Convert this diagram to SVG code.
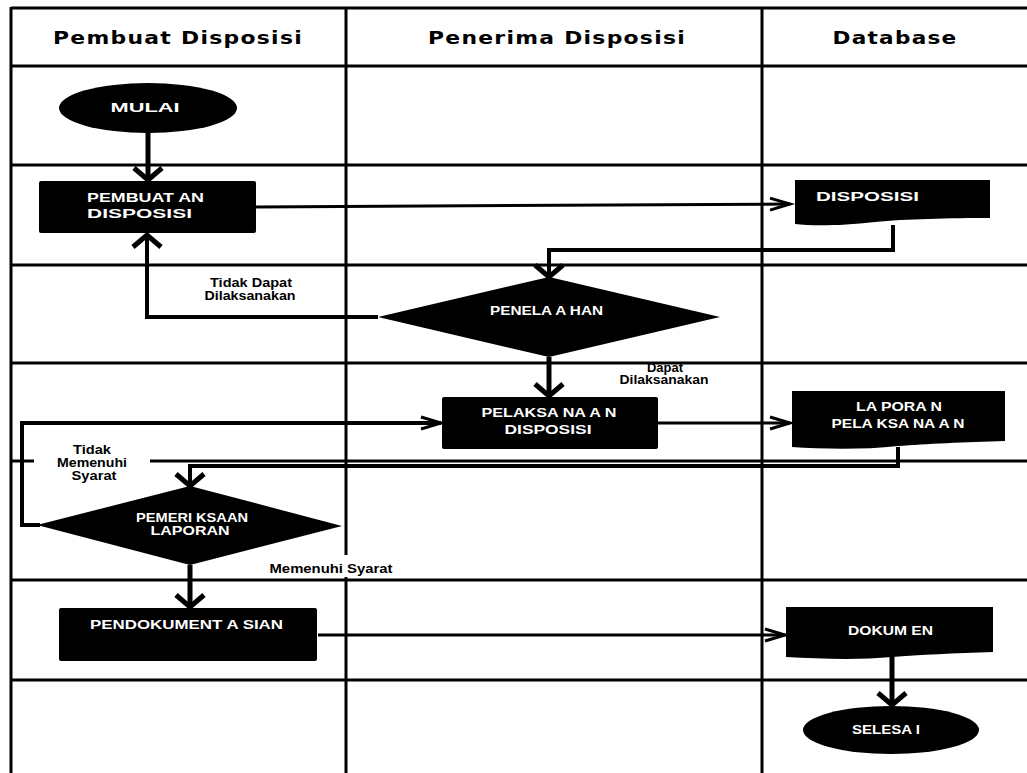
<svg xmlns="http://www.w3.org/2000/svg" width="1027" height="773" viewBox="0 0 1027 773">
<style>
.grid{stroke:#000;stroke-width:3;fill:none}
.hdr{font-family:'DejaVu Sans','Open Sans',sans-serif;font-weight:bold;font-size:17px;letter-spacing:1px;fill:#000;text-anchor:middle}
.nt{font-family:'Liberation Sans Narrow','Liberation Sans',sans-serif;font-weight:bold;font-size:13px;fill:#fff}
.lbl{font-family:'Liberation Sans Narrow','Liberation Sans',sans-serif;font-weight:bold;font-size:12px;fill:#000;text-anchor:middle}
.shape{fill:#000}
.c{fill:none;stroke:#000;stroke-width:4;stroke-linejoin:miter}
.cb{fill:none;stroke:#000;stroke-width:5}
.cs{fill:none;stroke:#000;stroke-width:3}
</style>
<defs>
<marker id="big" markerUnits="userSpaceOnUse" markerWidth="40" markerHeight="40" viewBox="-20 -20 40 40" refX="0" refY="0" orient="auto" overflow="visible">
<path d="M-12,-14 L0,0 L-12,14" fill="none" stroke="#000" stroke-width="5"/>
</marker>
<marker id="small" markerUnits="userSpaceOnUse" markerWidth="40" markerHeight="40" viewBox="-20 -20 40 40" refX="0" refY="0" orient="auto" overflow="visible">
<path d="M-20,-6 L0,0 L-20,6" fill="none" stroke="#000" stroke-width="3"/>
</marker>
</defs>
<rect width="1027" height="773" fill="#fff"/>
<g id="grid">
<path class="grid" d="M11,8 H1027 M11,66 H1027 M11,165 H1027 M11,265 H1027 M11,363 H1027 M11,461 H34 M150,461 H1027 M11,580 H1027 M11,680 H1027"/>
<path class="grid" d="M11,7 V773 M346,7 V555 M346,577 V773 M762,7 V773"/>
<text class="hdr" x="178" y="44" textLength="250" lengthAdjust="spacingAndGlyphs">Pembuat Disposisi</text>
<text class="hdr" x="557" y="44" textLength="258" lengthAdjust="spacingAndGlyphs">Penerima Disposisi</text>
<text class="hdr" x="895" y="44" textLength="125" lengthAdjust="spacingAndGlyphs">Database</text>
</g>
<g id="connectors">
<path class="cb" d="M148,133 V180" marker-end="url(#big)"/>
<path class="cs" d="M256,207 L790,204" marker-end="url(#small)"/>
<path class="c" d="M893,225 V250 H549 V277" marker-end="url(#big)"/>
<path class="c" d="M378,317 H147 V235" marker-end="url(#big)"/>
<path class="cb" d="M549,357 V396" marker-end="url(#big)"/>
<path class="cs" d="M658,423 H790" marker-end="url(#small)"/>
<path class="c" d="M898,447 V466 H190 V486" marker-end="url(#big)"/>
<path class="c" d="M40,525 H22 V423 H441" marker-end="url(#small)"/>
<path class="cb" d="M190,565 V607" marker-end="url(#big)"/>
<path class="cs" d="M318,635 H785" marker-end="url(#small)"/>
<path class="cb" d="M892,655 V705" marker-end="url(#big)"/>
<text class="lbl" x="251" y="287" textLength="82" lengthAdjust="spacingAndGlyphs">Tidak Dapat</text>
<text class="lbl" x="250" y="300" textLength="91" lengthAdjust="spacingAndGlyphs">Dilaksanakan</text>
<text class="lbl" x="665" y="372" textLength="36" lengthAdjust="spacingAndGlyphs">Dapat</text>
<text class="lbl" x="664" y="384" textLength="89" lengthAdjust="spacingAndGlyphs">Dilaksanakan</text>
<text class="lbl" x="92" y="454" textLength="38" lengthAdjust="spacingAndGlyphs">Tidak</text>
<text class="lbl" x="92" y="467" textLength="70" lengthAdjust="spacingAndGlyphs">Memenuhi</text>
<text class="lbl" x="94" y="480" textLength="45" lengthAdjust="spacingAndGlyphs">Syarat</text>
<text class="lbl" x="331" y="573" textLength="123" lengthAdjust="spacingAndGlyphs">Memenuhi  Syarat</text>
</g>
<g id="mulai">
<ellipse class="shape" cx="148" cy="108" rx="89" ry="25"/>
<text class="nt" x="145" y="112" text-anchor="middle" textLength="69" lengthAdjust="spacingAndGlyphs">MULAI</text>
</g>
<g id="pembuatan">
<rect class="shape" x="39" y="181" width="217" height="52" rx="2"/>
<text class="nt" x="87" y="202" textLength="117" lengthAdjust="spacingAndGlyphs">PEMBUAT AN</text>
<text class="nt" x="87" y="218" textLength="105" lengthAdjust="spacingAndGlyphs">DISPOSISI</text>
</g>
<g id="disposisi">
<path class="shape" d="M795,180 H990 V218 C950,218 905,219 875,222 C840,226 812,226 795,224 Z"/>
<text class="nt" x="816" y="201" textLength="103" lengthAdjust="spacingAndGlyphs">DISPOSISI</text>
</g>
<g id="penelaahan">
<polygon class="shape" points="549,277 720,317 549,357 378,317"/>
<text class="nt" x="490" y="315" textLength="113" lengthAdjust="spacingAndGlyphs">PENELA A HAN</text>
</g>
<g id="pelaksanaan">
<rect class="shape" x="442" y="397" width="216" height="52" rx="2"/>
<text class="nt" x="549" y="417" text-anchor="middle" textLength="135" lengthAdjust="spacingAndGlyphs">PELAKSA NA A N</text>
<text class="nt" x="548" y="434" text-anchor="middle" textLength="87" lengthAdjust="spacingAndGlyphs">DISPOSISI</text>
</g>
<g id="laporan">
<path class="shape" d="M792,391 H1005 V441 C965,442 925,444 898,446 C862,450 822,449 792,447 Z"/>
<text class="nt" x="899" y="411" text-anchor="middle" textLength="86" lengthAdjust="spacingAndGlyphs">LA PORA N</text>
<text class="nt" x="898" y="428" text-anchor="middle" textLength="133" lengthAdjust="spacingAndGlyphs">PELA KSA NA A N</text>
</g>
<g id="pemeriksaan">
<polygon class="shape" points="190,486 342,526 190,565 37,525"/>
<text class="nt" x="192" y="522" text-anchor="middle" font-size="11" textLength="112" lengthAdjust="spacingAndGlyphs">PEMERI KSAAN</text>
<text class="nt" x="190" y="535" text-anchor="middle" font-size="11" textLength="79" lengthAdjust="spacingAndGlyphs">LAPORAN</text>
</g>
<g id="pendokumentasian">
<rect class="shape" x="59" y="608" width="258" height="53" rx="2"/>
<text class="nt" x="90" y="629" textLength="193" lengthAdjust="spacingAndGlyphs">PENDOKUMENT A SIAN</text>
</g>
<g id="dokumen">
<path class="shape" d="M786,607 H993 V652 C955,653 918,655 892,657 C860,660 822,659 786,657 Z"/>
<text class="nt" x="848" y="635" textLength="85" lengthAdjust="spacingAndGlyphs">DOKUM EN</text>
</g>
<g id="selesai">
<ellipse class="shape" cx="891" cy="730" rx="88" ry="24"/>
<text class="nt" x="886" y="734" text-anchor="middle" textLength="68" lengthAdjust="spacingAndGlyphs">SELESA I</text>
</g>
</svg>
